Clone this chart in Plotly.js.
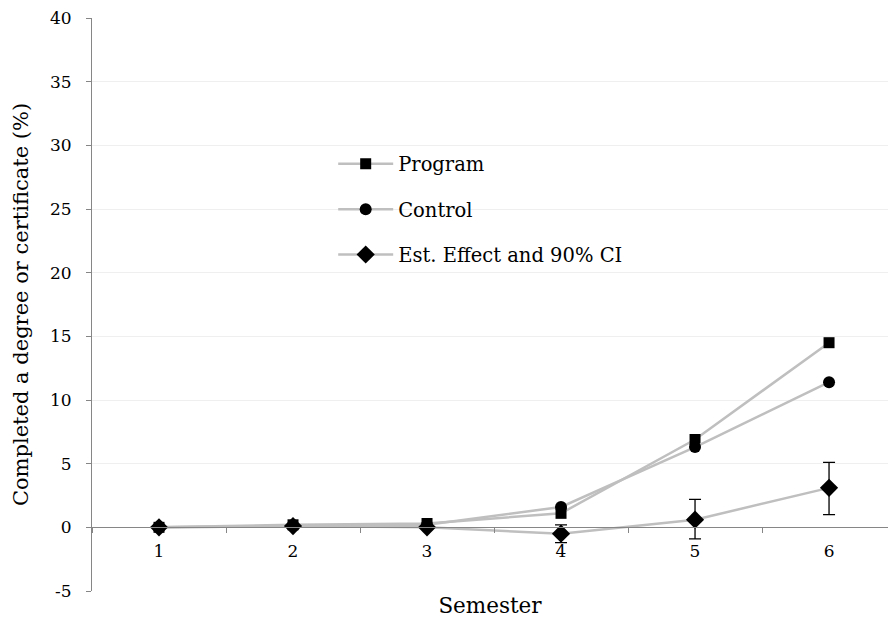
<!DOCTYPE html>
<html>
<head>
<meta charset="utf-8">
<script src="https://cdn.plot.ly/plotly-3.0.1.min.js"></script>
<style>html,body{margin:0;padding:0;background:#fff;}#chart{width:888px;height:629px;}</style>
</head>
<body>
<div id="chart"></div>
<script>
const semesters = ["1", "2", "3", "4", "5", "6"];
const programVals = [0, 0.2, 0.3, 1.1, 6.9, 14.5];
const controlVals = [0, 0.1, 0.2, 1.6, 6.3, 11.4];
const effectVals = [0, 0.1, 0.0, -0.5, 0.6, 3.1];
const ciUpper = [0, 0.1, 0.0, 0.2, 2.2, 5.1];
const ciLower = [0, 0.1, 0.0, -1.2, -0.9, 1.0];
const yTicks = [-5, 0, 5, 10, 15, 20, 25, 30, 35, 40];
const yTickText = ["-5", "0", "5", "10", "15", "20", "25", "30", "35", "40"];

const serif = "DejaVu Serif";
const lineGray = "#BFBFBF";
const axisGray = "#868686";

const errPlus = effectVals.map((v, i) => +(ciUpper[i] - v).toFixed(3));
const errMinus = effectVals.map((v, i) => +(v - ciLower[i]).toFixed(3));

const traces = [
  {
    x: semesters, y: programVals, name: "Program", type: "scatter", mode: "lines+markers",
    line: {color: lineGray, width: 2.5},
    marker: {symbol: "square", size: 11, color: "#000"},
    legendgroup: "a"
  },
  {
    x: semesters, y: controlVals, name: "Control", type: "scatter", mode: "lines+markers",
    line: {color: lineGray, width: 2.5},
    marker: {symbol: "circle", size: 12, color: "#000"},
    legendgroup: "b"
  },
  {
    x: semesters, y: effectVals, name: "Est. Effect and 90% CI", type: "scatter", mode: "lines+markers",
    line: {color: lineGray, width: 2.5},
    marker: {symbol: "diamond", size: 14, color: "#000"},
    error_y: {type: "data", symmetric: false, array: errPlus, arrayminus: errMinus,
              color: "#000", thickness: 1.3, width: 6},
    legendgroup: "c"
  }
];

const layout = {
  width: 888, height: 629,
  margin: {l: 92, r: 0, t: 18, b: 38},
  paper_bgcolor: "#fff", plot_bgcolor: "#fff",
  font: {family: serif, color: "#000", size: 18},
  showlegend: true,
  legend: {
    x: 0.303, y: 0.779, xanchor: "left", yanchor: "top",
    bgcolor: "rgba(0,0,0,0)", font: {family: serif, size: 19.5, color: "#000"},
    tracegroupgap: 17, itemwidth: 55
  },
  xaxis: {
    type: "category",
    range: [-0.5, 5.44],
    anchor: "free", position: 5 / 45,
    showgrid: false, zeroline: false,
    showline: true, linecolor: axisGray, linewidth: 1,
    tickson: "boundaries", ticks: "outside", ticklen: 5, tickcolor: axisGray,
    tickfont: {family: serif, size: 17, color: "#000"},
    ticklabelstandoff: 8,
    title: {text: "Semester", font: {family: serif, size: 21.5, color: "#000"}, standoff: 38}
  },
  yaxis: {
    range: [-5, 40],
    tickvals: yTicks, ticktext: yTickText,
    showgrid: true, gridcolor: "#EFEFEF", gridwidth: 1,
    zeroline: false,
    showline: true, linecolor: axisGray, linewidth: 1,
    ticks: "outside", ticklen: 5, tickcolor: axisGray,
    tickfont: {family: serif, size: 17, color: "#000"},
    ticklabelstandoff: 11,
    title: {text: "Completed a degree or certificate (%)", font: {family: serif, size: 21, color: "#000"}, standoff: 15}
  }
};

Plotly.newPlot("chart", traces, layout, {displayModeBar: false, staticPlot: true});
</script>
</body>
</html>
